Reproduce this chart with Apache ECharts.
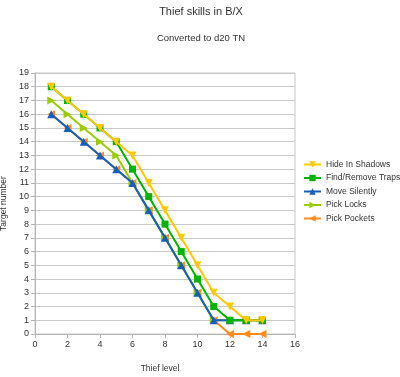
<!DOCTYPE html>
<html>
<head>
<meta charset="utf-8">
<script src="https://cdn.jsdelivr.net/npm/echarts@6/dist/echarts.min.js"></script>
<style>
  html, body { margin: 0; padding: 0; background: #fff; }
  #chart { width: 400px; height: 377px; }
</style>
</head>
<body>
<div id="chart"></div>
<script>
// thief levels 1..14
const levels = [1, 2, 3, 4, 5, 6, 7, 8, 9, 10, 11, 12, 13, 14];
const hideInShadows = [18, 17, 16, 15, 14, 13, 11, 9, 7, 5, 3, 2, 1, 1];
const findTraps = [18, 17, 16, 15, 14, 12, 10, 8, 6, 4, 2, 1, 1, 1];
const moveSilently = [16, 15, 14, 13, 12, 11, 9, 7, 5, 3, 1, 1, 1, 1];
const pickLocks = [17, 16, 15, 14, 13, 11, 9, 7, 5, 3, 1, 1, 1, 1];
const pickPockets = [16, 15, 14, 13, 12, 11, 9, 7, 5, 3, 1, 0, 0, 0];

const names = ['Hide In Shadows', 'Find/Remove Traps', 'Move Silently', 'Pick Locks', 'Pick Pockets'];
const colors = ['#ffc800', '#00b400', '#1560bd', '#9acd00', '#ff8c1a'];
const symbols = ['triangle', 'rect', 'triangle', 'triangle', 'triangle'];
const rotates = [180, 0, 0, -90, 90];
const values = [hideInShadows, findTraps, moveSilently, pickLocks, pickPockets];

const chart = echarts.init(document.getElementById('chart'));

// first series ends up on top, like the original
const series = names.map((n, i) => ({
  name: n,
  type: 'line',
  data: levels.map((x, j) => [x, values[i][j]]),
  symbol: symbols[i],
  symbolRotate: rotates[i],
  symbolSize: i == 1 ? 7 : 8,
  z: 10 - i,
  lineStyle: { width: 2, color: colors[i] },
  itemStyle: { color: colors[i] }
}));

chart.setOption({
  animation: false,
  title: [
    { text: 'Thief skills in B/X', left: 196, top: 1, textAlign: 'center',
      textStyle: { fontFamily: 'Liberation Sans', fontSize: 11, fontWeight: 'normal', color: '#333' } },
    { text: 'Converted to d20 TN', left: 196, top: 28, textAlign: 'center',
      textStyle: { fontFamily: 'Liberation Sans', fontSize: 9.5, fontWeight: 'normal', color: '#333' } }
  ],
  legend: {
    data: names,
    orient: 'vertical',
    left: 303,
    top: 160,
    padding: 0,
    itemWidth: 17,
    itemHeight: 8,
    itemGap: 4.5,
    textStyle: { fontFamily: 'Liberation Sans', fontSize: 8.5, color: '#333' }
  },
  grid: {
    left: 35, right: 105, top: 73, bottom: 43,
    outerBoundsMode: 'none',
    show: true, borderColor: '#c8c8c8', borderWidth: 1
  },
  xAxis: {
    type: 'value',
    min: 0, max: 16, interval: 2,
    name: 'Thief level',
    nameLocation: 'middle',
    nameGap: 30,
    nameTextStyle: { fontFamily: 'Liberation Sans', fontSize: 8.5, color: '#333', padding: [0, 10, 0, 0] },
    axisLine: { lineStyle: { color: '#b4b4b4' } },
    axisTick: { show: true, length: 4, lineStyle: { color: '#b4b4b4' } },
    axisLabel: { fontFamily: 'Liberation Sans', fontSize: 9, color: '#333', margin: 6 },
    splitLine: { show: false }
  },
  yAxis: {
    type: 'value',
    min: 0, max: 19, interval: 1,
    name: 'Target number',
    nameLocation: 'middle',
    nameGap: 20,
    nameTextStyle: { fontFamily: 'Liberation Sans', fontSize: 8.5, color: '#333' },
    axisLine: { show: true, lineStyle: { color: '#b4b4b4' } },
    axisTick: { show: true, length: 4, lineStyle: { color: '#b4b4b4' } },
    axisLabel: { fontFamily: 'Liberation Sans', fontSize: 9, color: '#333', margin: 6 },
    splitLine: { lineStyle: { color: '#c8c8c8' } }
  },
  series: series
});
</script>
</body>
</html>
